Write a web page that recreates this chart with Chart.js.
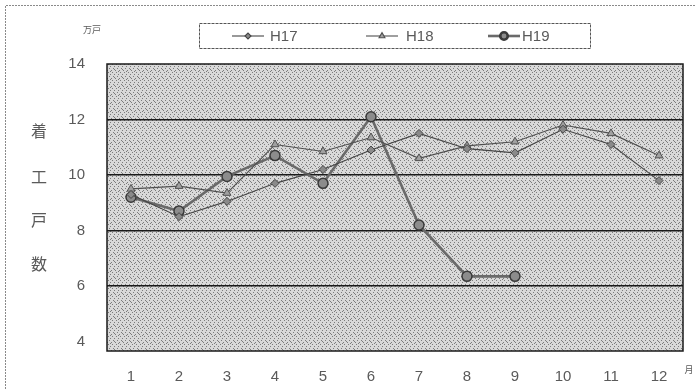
<!DOCTYPE html>
<html>
<head>
<meta charset="utf-8">
<script src="https://cdn.jsdelivr.net/npm/chart.js@4/dist/chart.umd.min.js"></script>
<style>
  html, body { margin: 0; padding: 0; background: #ffffff; }
  #wrap { position: relative; width: 695px; height: 389px; }
</style>
</head>
<body>
<div id="wrap"><canvas id="c" width="695" height="389"></canvas></div>
<script>
// Monthly housing starts (万戸) by fiscal year
const months = ['1', '2', '3', '4', '5', '6', '7', '8', '9', '10', '11', '12'];
const seriesNames = ['H17', 'H18', 'H19'];
const h17 = [9.3, 8.5, 9.05, 9.7, 10.2, 10.9, 11.5, 10.95, 10.8, 11.65, 11.1, 9.8];
const h18 = [9.5, 9.6, 9.35, 11.1, 10.85, 11.35, 10.6, 11.05, 11.2, 11.8, 11.5, 10.7];
const h19 = [9.2, 8.7, 9.95, 10.7, 9.7, 12.1, 8.2, 6.35, 6.35, null, null, null];
const yTicks = [4, 6, 8, 10, 12, 14];
const gridValues = [6, 8, 10, 12];
const yTitle = ['着', '工', '戸', '数'];
const unitLabel = '万戸';
const monthUnit = '月';

const labelFont = '"Liberation Sans", "DejaVu Sans", sans-serif';
const cjkFont = '"Noto Sans CJK JP", sans-serif';
const textGray = '#5a5a5a';

// screened grey fill for the plotting area
function makePattern() {
  const p = document.createElement('canvas');
  p.width = 8; p.height = 8;
  const g = p.getContext('2d');
  g.fillStyle = '#d9d9d9';
  g.fillRect(0, 0, 8, 8);
  g.fillStyle = '#7c7c7c';
  [[0,0],[4,0],[2,2],[6,2],[1,4],[5,4],[3,6],[7,6],[6,7],[2,5]]
    .forEach(([x, y]) => g.fillRect(x, y, 1, 1));
  return g.createPattern(p, 'repeat');
}

const plotBackground = {
  id: 'plotBackground',
  beforeDraw(chart) {
    const { ctx, chartArea: a } = chart;
    ctx.save();
    ctx.fillStyle = makePattern();
    ctx.fillRect(a.left, a.top, a.right - a.left, a.bottom - a.top);
    ctx.restore();
  },
  afterDatasetsDraw(chart) {
    const { ctx, chartArea: a } = chart;
    ctx.save();
    ctx.strokeStyle = '#1a1a1a';
    ctx.lineWidth = 1.5;
    ctx.strokeRect(a.left, a.top, a.right - a.left, a.bottom - a.top);
    ctx.restore();
  }
};

// frame, titles and boxed legend
const decorations = {
  id: 'decorations',
  afterDraw(chart) {
    const { ctx } = chart;
    ctx.save();
    // outer page frame (top and left)
    ctx.strokeStyle = '#8a8a8a';
    ctx.lineWidth = 1;
    ctx.setLineDash([2, 1]);
    ctx.beginPath();
    ctx.moveTo(5.5, 389); ctx.lineTo(5.5, 5.5); ctx.lineTo(695, 5.5);
    ctx.stroke();
    ctx.setLineDash([]);

    // unit labels
    ctx.fillStyle = textGray;
    ctx.font = '9px ' + cjkFont;
    ctx.textAlign = 'center';
    ctx.textBaseline = 'middle';
    ctx.fillText(unitLabel, 92, 30);
    ctx.fillText(monthUnit, 689, 370);

    // vertical axis title
    ctx.font = '16px ' + cjkFont;
    const ys = [131, 177, 220, 264];
    yTitle.forEach((ch, i) => ctx.fillText(ch, 39, ys[i]));

    // legend box
    ctx.strokeStyle = '#555';
    ctx.lineWidth = 1;
    ctx.setLineDash([3, 1]);
    ctx.strokeRect(199.5, 23.5, 391, 25);
    ctx.setLineDash([]);

    const entries = [
      { x: 232, tx: 270 },
      { x: 366, tx: 406 },
      { x: 488, tx: 522 }
    ];
    const cy = 36;
    chart.data.datasets.forEach((ds, i) => {
      const e = entries[i];
      ctx.strokeStyle = ds.borderColor;
      ctx.lineWidth = ds.borderWidth;
      ctx.beginPath();
      ctx.moveTo(e.x, cy); ctx.lineTo(e.x + 32, cy);
      ctx.stroke();
      ctx.fillStyle = ds.pointBackgroundColor;
      ctx.strokeStyle = ds.pointBorderColor;
      Chart.helpers.drawPoint(ctx, {
        pointStyle: ds.pointStyle,
        radius: ds.pointRadius * 0.75,
        borderWidth: ds.pointBorderWidth,
        rotation: 0
      }, e.x + 16, cy);
      ctx.fillStyle = textGray;
      ctx.font = '15px ' + labelFont;
      ctx.textAlign = 'left';
      ctx.fillText(ds.label, e.tx, cy + 1);
    });
    ctx.restore();
  }
};

new Chart(document.getElementById('c'), {
  type: 'line',
  data: {
    labels: months,
    datasets: [
      {
        label: seriesNames[0], data: h17,
        borderColor: '#454545', borderWidth: 1.1,
        pointStyle: 'rectRot', pointRadius: 4,
        pointBackgroundColor: '#8a8a8a', pointBorderColor: '#454545', pointBorderWidth: 1
      },
      {
        label: seriesNames[1], data: h18,
        borderColor: '#505050', borderWidth: 1.1,
        pointStyle: 'triangle', pointRadius: 4.5,
        pointBackgroundColor: '#a0a0a0', pointBorderColor: '#505050', pointBorderWidth: 1
      },
      {
        label: seriesNames[2], data: h19,
        borderColor: '#6a6a6a', borderWidth: 2.6,
        pointStyle: 'circle', pointRadius: 5,
        pointBackgroundColor: '#8c8c8c', pointBorderColor: '#3a3a3a', pointBorderWidth: 1.5
      }
    ]
  },
  options: {
    responsive: false,
    animation: false,
    devicePixelRatio: 1,
    spanGaps: false,
    layout: { padding: { top: 64, right: 12, left: 0, bottom: 0 } },
    plugins: {
      legend: { display: false },
      tooltip: { enabled: false }
    },
    elements: { line: { tension: 0 } },
    scales: {
      x: {
        type: 'category',
        offset: true,
        grid: { display: false, drawTicks: false },
        border: { display: false },
        ticks: { color: textGray, font: { family: labelFont, size: 15 }, padding: 17, maxRotation: 0 },
        afterFit(scale) { scale.height = 38; }
      },
      y: {
        min: 3.66,
        max: 14,
        afterBuildTicks(scale) { scale.ticks = yTicks.map(v => ({ value: v })); },
        grid: {
          drawTicks: false,
          lineWidth: 1.5,
          color: ctx => (ctx.tick && gridValues.includes(ctx.tick.value)) ? '#1a1a1a' : 'rgba(0,0,0,0)'
        },
        border: { display: false },
        ticks: { color: textGray, font: { family: labelFont, size: 15 }, padding: 22 },
        afterFit(scale) { scale.width = 107; }
      }
    }
  },
  plugins: [plotBackground, decorations]
});
</script>
</body>
</html>
